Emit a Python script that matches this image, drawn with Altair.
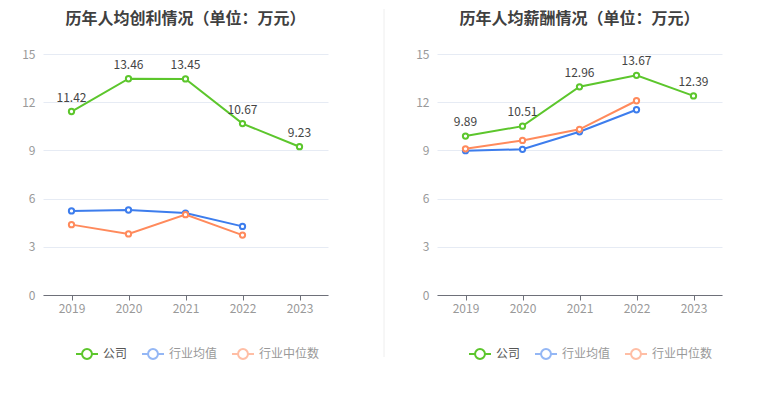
import altair as alt
import pandas as pd

years = ["2019", "2020", "2021", "2022", "2023"]
series_names = ["公司", "行业均值", "行业中位数"]
colors = ["#5cc62c", "#3d7ded", "#ff8a5c"]

profit_company = [11.42, 13.46, 13.45, 10.67, 9.23]
profit_avg = [5.23, 5.29, 5.10, 4.27, None]
profit_median = [4.38, 3.80, 5.00, 3.73, None]

salary_company = [9.89, 10.51, 12.96, 13.67, 12.39]
salary_avg = [8.98, 9.07, 10.16, 11.53, None]
salary_median = [9.10, 9.62, 10.31, 12.09, None]

y_ticks = [0, 3, 6, 9, 12, 15]

FONT = "Noto Sans CJK SC"
SYMBOL = ("M-1,0L-0.45,0M0.45,0L1,0"
          "M0.45,0A0.45,0.45,0,1,1,-0.45,0A0.45,0.45,0,1,1,0.45,0Z")


def long_frame(company, avg, median):
    rows = []
    for name, vals in zip(series_names, [company, avg, median]):
        for yr, v in zip(years, vals):
            if v is not None:
                rows.append({"year": yr, "series": name, "value": v})
    return pd.DataFrame(rows)


def panel(df, title, legend_x):
    x = alt.X("year:N", scale=alt.Scale(type="point", domain=years, padding=0.5),
              axis=alt.Axis(title=None, labelAngle=0, labelColor="#999999",
                            labelFontSize=12, labelFont=FONT, domainColor="#6e7079",
                            tickColor="#6e7079", tickSize=5, labelPadding=3,
                            grid=False))
    y = alt.Y("value:Q", scale=alt.Scale(domain=[0, 15], nice=False),
              axis=alt.Axis(title=None, values=y_ticks, labelColor="#999999",
                            labelFontSize=12, labelFont=FONT, domain=False,
                            ticks=False, labelPadding=8, gridColor="#e6ebf4",
                            gridWidth=1))
    color = alt.Color(
        "series:N",
        scale=alt.Scale(domain=series_names, range=colors),
        legend=alt.Legend(
            title=None, orient="none", legendX=legend_x, legendY=288,
            direction="horizontal", symbolType=SYMBOL, symbolSize=484,
            symbolStrokeWidth=2, symbolFillColor="white",
            labelFontSize=12, labelFont=FONT,
            labelColor=alt.ExprRef("datum.label === '公司' ? '#555555' : '#999999'"),
            symbolOpacity=alt.ExprRef("datum.label === '公司' ? 1 : 0.55"),
            columnPadding=10, labelOffset=4, padding=0),
    )
    base = alt.Chart(df)
    line = base.mark_line(strokeWidth=2).encode(x=x, y=y, color=color,
                                                 order=alt.Order("year:N"))
    pts = base.mark_point(filled=True, fill="white", size=28, strokeWidth=2,
                          opacity=1).encode(x=x, y=y, stroke=alt.Stroke(
                              "series:N", scale=alt.Scale(domain=series_names, range=colors),
                              legend=None))
    labels = base.transform_filter(alt.datum.series == "公司").mark_text(
        dy=-14, fontSize=12, font=FONT, color="#444444").encode(
        x=x, y=y, text=alt.Text("value:Q", format=".2f"))
    return alt.layer(line, pts, labels).properties(
        width=285, height=241,
        title=alt.TitleParams(title, fontSize=16, font=FONT, fontWeight="bold",
                              color="#404040", anchor="middle", offset=21),
    ).resolve_scale(stroke="independent")


df_profit = long_frame(profit_company, profit_avg, profit_median)
df_salary = long_frame(salary_company, salary_avg, salary_median)

left = panel(df_profit, "历年人均创利情况（单位：万元）", 32)
right = panel(df_salary, "历年人均薪酬情况（单位：万元）", 31)

divider = alt.Chart(pd.DataFrame({"d": [0]})).mark_rule(
    color="#eeeeee", strokeWidth=1).encode(
    x=alt.value(2), y=alt.value(-45), y2=alt.value(303)
).properties(width=1, height=241)

chart = alt.hconcat(left, divider, right, spacing=54, bounds="flush",
                    padding={"left": 13, "top": 0, "right": 5, "bottom": 5},
                    background="white"
                    ).resolve_scale(color="independent", stroke="independent"
                    ).configure_view(strokeWidth=0, stroke="transparent")

chart.save("out.html", embed_options={"renderer": "svg", "actions": False})
